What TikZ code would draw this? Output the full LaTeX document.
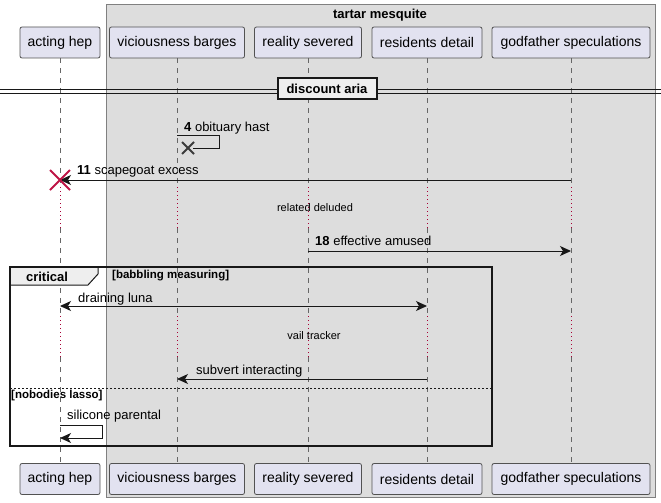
\documentclass[tikz,border=0pt]{standalone}
\usepackage{fontspec}
\setmainfont{Liberation Sans}
\usetikzlibrary{arrows.meta, calc}
\definecolor{partfill}{RGB}{226,226,240}
\definecolor{boxgray}{RGB}{221,221,221}
\definecolor{tabgray}{RGB}{238,238,238}
\definecolor{linedark}{RGB}{24,24,24}
\definecolor{delayred}{RGB}{168,0,54}
\definecolor{crossred}{RGB}{190,20,70}

\begin{document}
\begin{tikzpicture}[x=1pt, y=-1pt,
	every node/.style={font=\fontsize{13}{15}\selectfont, inner sep=0pt},
	part/.style={draw=linedark!75, fill=partfill, rounded corners=2pt, minimum height=31pt, line width=0.8pt, font=\fontsize{14}{16}\selectfont},
	life/.style={draw=black!60, dash pattern=on 5pt off 5pt, line width=0.8pt},
	delay/.style={draw=delayred, dash pattern=on 1pt off 3pt, line width=1pt},
	msg/.style={draw=linedark, line width=1pt, -{Stealth[length=11pt, width=10pt, inset=3pt]}},
	bimsg/.style={draw=linedark, line width=1pt, {Stealth[length=11pt, width=10pt, inset=3pt]}-{Stealth[length=11pt, width=10pt, inset=3pt]}},
	small/.style={font=\fontsize{11}{13}\selectfont},
	smallbold/.style={font=\fontsize{11.5}{13}\selectfont\bfseries},
	bigbold/.style={font=\fontsize{13}{15}\selectfont\bfseries}]

	\useasboundingbox (0,0) rectangle (661,503);
	\draw[fill=boxgray, draw=black!50, line width=1pt] (106,5) rectangle (655,497);
	\node[bigbold] (mesquite) at (380,15) {tartar mesquite};

	\foreach \n/\x/\w/\t in {hep/60/80/acting hep, barges/177/135/viciousness barges, severed/308/107/reality severed, detail/427/110/residents detail, godfather/571/158/godfather speculations}{
		\node[part, minimum width=\w pt] (\n-top) at (\x,42.5) {\t};
		\node[part, minimum width=\w pt] (\n-bot) at (\x,479) {\t};
	}

	\coordinate (d1a) at (0,187);
	\coordinate (d1b) at (0,228);
	\coordinate (d2a) at (0,316);
	\coordinate (d2b) at (0,357);
	\foreach \n in {hep,barges,severed,detail,godfather}{
		\draw[life] (\n-top) -- (\n-top |- d1a);
		\draw[delay] (\n-top |- d1a) -- (\n-top |- d1b);
		\draw[life] (\n-top |- d1b) -- (\n-top |- d2a);
		\draw[delay] (\n-top |- d2a) -- (\n-top |- d2b);
		\draw[life] (\n-top |- d2b) -- (\n-bot);
	}

	\draw[linedark, line width=1pt] (0,89.5) -- (661,89.5);
	\draw[linedark, line width=1pt] (0,93) -- (661,93);
	\node[bigbold, draw=linedark, line width=2pt, fill=tabgray, minimum width=99pt, minimum height=21pt] (aria) at (327,88.5) {discount aria};

	\coordinate (r4) at (0,135);
	\coordinate (x4) at (188,148);
	\draw[linedark, line width=1pt] (barges-top |- r4) -- ++(42,0) |- ($(x4)+(5,0)$);
	\draw[linedark!85, line width=2pt] ($(x4)+(-6,-6)$) -- ($(x4)+(6,6)$) ($(x4)+(-6,6)$) -- ($(x4)+(6,-6)$);
	\node[anchor=base west] (l4) at (184,131.5) {\textbf{4} obituary hast};

	\coordinate (r11) at (0,180);
	\draw[msg] (godfather-top |- r11) -- (hep-top |- r11);
	\draw[crossred, line width=2pt] ($(hep-top |- r11)+(-10,-10)$) -- ($(hep-top |- r11)+(10,10)$) ($(hep-top |- r11)+(-10,10)$) -- ($(hep-top |- r11)+(10,-10)$);
	\node[anchor=base west] (l11) at (77,174) {\textbf{11} scapegoat excess};

	\node[small] (deluded) at (315,208) {related deluded};

	\coordinate (r18) at (0,251);
	\draw[msg] (severed-top |- r18) -- (godfather-top |- r18);
	\node[anchor=base west] (l18) at (315,245.5) {\textbf{18} effective amused};

	\draw[linedark, fill=tabgray, line width=1pt] (10,267) -- (98,267) -- (98,274) -- (88,285) -- (10,285) -- cycle;
	\draw[linedark, line width=2pt] (10,267) rectangle (492,446);
	\node[bigbold] (critical) at (47,276.5) {critical};
	\node[smallbold, anchor=west] (babbling) at (112,275.5) {[babbling measuring]};

	\coordinate (rluna) at (0,306);
	\draw[bimsg] (hep-top |- rluna) -- (detail-top |- rluna);
	\node[anchor=base west] (lluna) at (78,302) {draining luna};

	\node[small] (tracker) at (314,336) {vail tracker};

	\coordinate (rsub) at (0,379);
	\draw[msg] (detail-top |- rsub) -- (barges-top |- rsub);
	\node[anchor=base west] (lsub) at (196,374) {subvert interacting};

	\draw[linedark, line width=1pt, dash pattern=on 2pt off 2pt] (10,388) -- (492,388);
	\node[smallbold, anchor=west] (lasso) at (11,396) {[nobodies lasso]};

	\coordinate (rsil) at (0,425);
	\coordinate (rsilb) at (0,438);
	\draw[msg] (hep-top |- rsil) -- ++(42,0) |- (hep-top |- rsilb);
	\node[anchor=base west] (lsil) at (67,419.5) {silicone parental};
\end{tikzpicture}
\end{document}
